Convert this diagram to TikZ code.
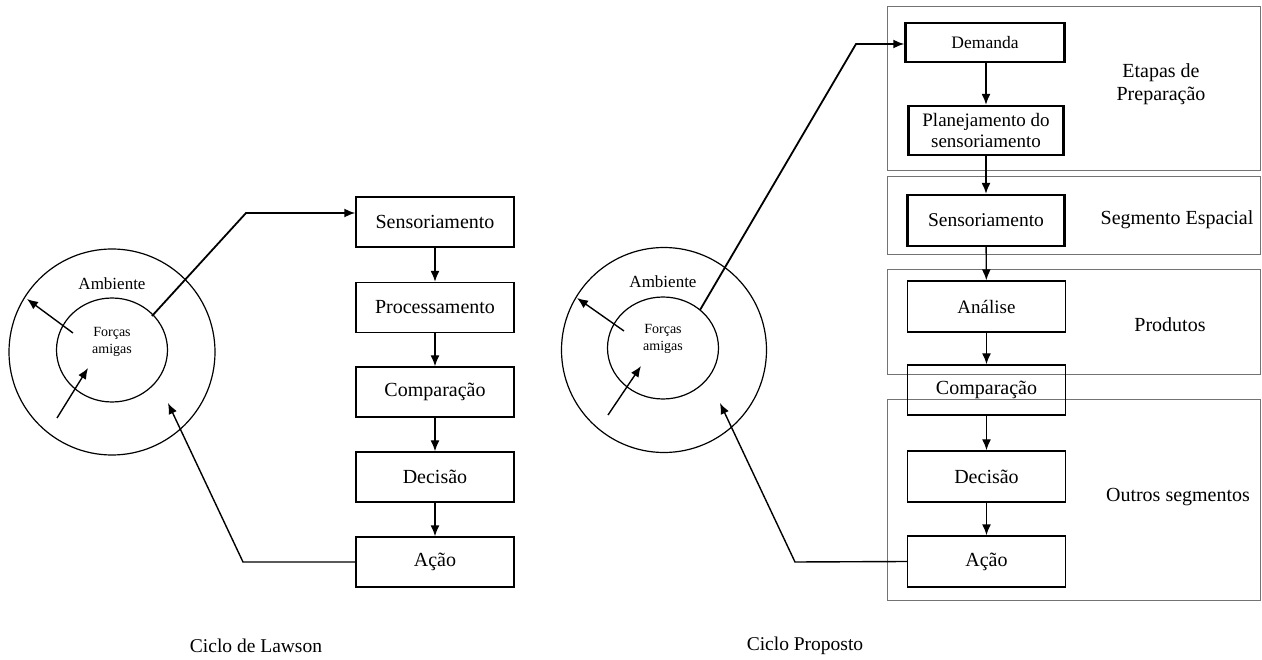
\documentclass[tikz,border=0pt]{standalone}
\usepackage{fontspec}
\setmainfont{Liberation Serif}
\usetikzlibrary{arrows.meta,shapes.geometric}
\begin{document}
\begin{tikzpicture}[x=1pt,y=-1pt,
  box/.style={draw, line width=1.4pt, minimum width=158pt, minimum height=50pt, inner sep=0pt, align=center, font=\fontsize{20}{22}\selectfont},
  tbox/.style={box, line width=2.4pt},
  arr/.style={line width=1.4pt, -{Latex[length=11pt,width=9pt]}},
  conn/.style={line width=1.4pt},
  grp/.style={draw=black!55, line width=1pt},
  lbl/.style={font=\fontsize{20}{23}\selectfont, align=center, inner sep=0pt},
  ring/.style={draw, line width=1.2pt, inner sep=0pt},
]
\useasboundingbox (0,0) rectangle (1262,660);

% ---------- Left: Lawson cycle ----------
\node[ring, circle, minimum size=206pt] (louter) at (112,352) {};
\node[ring, ellipse, minimum width=111pt, minimum height=104pt] (linner) at (112,350) {};
\node[lbl, font=\fontsize{17}{19}\selectfont] (lamb) at (112,284) {Ambiente};
\node[lbl, font=\fontsize{14}{17}\selectfont] (lfor) at (112,342) {Forças\\amigas};

\node[box] (ls) at (435,222) {Sensoriamento};
\node[box] (lp) at (435,307.5) {Processamento};
\node[box] (lc) at (435,392) {Comparação};
\node[box] (ld) at (435,477) {Decisão};
\node[box] (la) at (435,562) {Ação};
\draw[arr] (ls) -- (lp);
\draw[arr] (lp) -- (lc);
\draw[arr] (lc) -- (ld);
\draw[arr] (ld) -- (la);

\coordinate (lo1) at (152,316);
\coordinate (lk1) at (246,213);
\draw[arr, line width=1.8pt] (lo1) -- (lk1) -- (lk1 -| ls.west);
\coordinate (lk2) at (243,562);
\coordinate (lt2) at (168,403);
\draw[arr] (la.west) -- (lk2) -- (lt2);
\coordinate (la1s) at (73,333);
\coordinate (la1e) at (27,299);
\draw[arr] (la1s) -- (la1e);
\coordinate (la2s) at (57,418);
\coordinate (la2e) at (88,368);
\draw[arr] (la2s) -- (la2e);

\node[lbl, font=\fontsize{19.5}{22}\selectfont] (lcap) at (256,646) {Ciclo de Lawson};

% ---------- Right: proposed cycle ----------
\draw[grp] (887,7) rectangle (1260,171);
\draw[grp] (887,177) rectangle (1260,255);
\draw[grp] (887,270) rectangle (1260,375);
\draw[grp] (887,400) rectangle (1260,600);

\node[lbl] (retapas) at (1161,84) {Etapas de\\Preparação};
\node[lbl] (rseg) at (1177,220) {Segmento Espacial};
\node[lbl] (rprod) at (1170,325) {Produtos};
\node[lbl] (routros) at (1178,497) {Outros segmentos};

\node[ring, circle, minimum size=205pt] (router) at (664,350) {};
\node[ring, ellipse, minimum width=111pt, minimum height=102pt] (rinner) at (663,348) {};
\node[lbl, font=\fontsize{17}{19}\selectfont] (ramb) at (663,282) {Ambiente};
\node[lbl, font=\fontsize{14}{17}\selectfont] (rfor) at (663,339) {Forças\\amigas};

\node[tbox, minimum width=159pt, minimum height=39pt, font=\fontsize{17.5}{20}\selectfont] (rdem) at (985,42.5) {Demanda};
\node[tbox, minimum width=155pt, minimum height=49pt, font=\fontsize{19}{21}\selectfont] (rpla) at (986,130.5) {Planejamento do\\sensoriamento};
\node[tbox, minimum width=157pt, minimum height=51pt, font=\fontsize{19.5}{22}\selectfont] (rsen) at (986,220.5) {Sensoriamento};
\node[box, minimum height=51pt, font=\fontsize{19}{22}\selectfont] (ran) at (986.5,306.5) {Análise};
\node[box] (rco) at (986.5,390) {Comparação};
\node[box, minimum height=51pt] (rde) at (986.5,476.5) {Decisão};
\node[box, minimum height=51pt] (rac) at (986.5,561.5) {Ação};

\draw[arr] (rdem.south -| rpla.north) -- (rpla.north);
\draw[arr] (rpla) -- (rsen);
\draw[arr] (rsen) -- (ran);
\draw[arr] (ran) -- (rco);
\draw[arr] (rco) -- (rde);
\draw[arr] (rde) -- (rac);

\coordinate (ro1) at (700,310);
\coordinate (rk1) at (856,44);
\draw[arr, line width=1.8pt] (ro1) -- (rk1) -- (rk1 -| rdem.west);
\coordinate (rk2) at (795,562);
\coordinate (rt2) at (720,403);
\draw[arr] (rac.west) -- (rk2) -- (rt2);
\coordinate (ra1s) at (624,331);
\coordinate (ra1e) at (577,298);
\draw[arr] (ra1s) -- (ra1e);
\coordinate (ra2s) at (608,415);
\coordinate (ra2e) at (641,366);
\draw[arr] (ra2s) -- (ra2e);

\node[lbl, font=\fontsize{19.5}{22}\selectfont] (rcap) at (805,646) {Ciclo Proposto};
\end{tikzpicture}
\end{document}
